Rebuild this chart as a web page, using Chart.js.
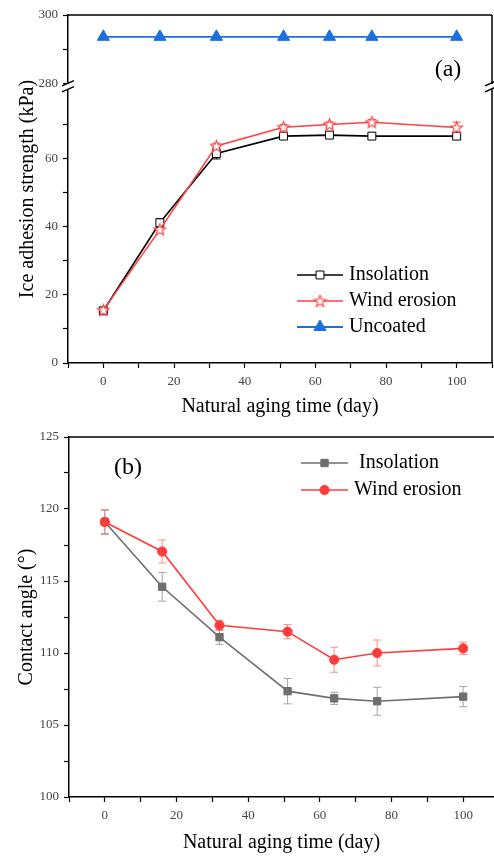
<!DOCTYPE html>
<html>
<head>
<meta charset="utf-8">
<script src="https://cdn.jsdelivr.net/npm/chart.js@4.4.0/dist/chart.umd.min.js"></script>
<style>
  html, body { margin: 0; padding: 0; background: #fff; }
  #wrapA { position: absolute; left: 0; top: 0; width: 494px; height: 422px; }
  #wrapB { position: absolute; left: 0; top: 422px; width: 494px; height: 434px; }
</style>
</head>
<body>
<div id="wrapA"><canvas id="chartA" width="494" height="422"></canvas></div>
<div id="wrapB"><canvas id="chartB" width="494" height="434"></canvas></div>
<script>
// aging days (both panels)
const days = [0, 16, 32, 51, 64, 76, 100];

// (a) ice adhesion strength, kPa
const iceInsolation = [15.3, 41.1, 61.4, 66.5, 66.8, 66.5, 66.5];
const iceInsolationErr = [0.6, 1.2, 1.6, 0.8, 0.8, 0.8, 0.6];
const iceWind = [15.5, 39.1, 63.6, 69.1, 69.9, 70.6, 69.0];
const iceWindErr = [0.6, 0.8, 0.8, 0.8, 0.8, 0.8, 1.6];
const iceUncoated = [293.6, 293.6, 293.6, 293.6, 293.6, 293.6, 293.6];

// (b) contact angle, degrees
const caInsolation = [119.1, 114.6, 111.1, 107.35, 106.85, 106.65, 106.97];
const caInsolationErr = [0.8, 1.0, 0.5, 0.88, 0.42, 0.97, 0.7];
const caWind = [119.1, 117.05, 111.92, 111.48, 109.53, 110.0, 110.32];
const caWindErr = [0.88, 0.8, 0.35, 0.49, 0.87, 0.9, 0.43];

// labelled ticks
const xTicks = [0, 20, 40, 60, 80, 100];
const iceTicks = [0, 20, 40, 60, 280, 300];
const caTicks = [100, 105, 110, 115, 120, 125];

const serif = "'Liberation Serif', 'Times New Roman', serif";
Chart.defaults.font.family = serif;
Chart.defaults.color = "#444";

function pts(ys) {
  return days.map((d, i) => ({ x: d, y: ys[i] }));
}

function starImage(color) {
  const c = document.createElement("canvas");
  c.width = 15;
  c.height = 15;
  const g = c.getContext("2d");
  g.beginPath();
  for (let k = 0; k < 10; k++) {
    const r = k % 2 ? 2.6 : 6.2;
    const a = -Math.PI / 2 + (k * Math.PI) / 5;
    g.lineTo(7.5 + r * Math.cos(a), 8 + r * Math.sin(a));
  }
  g.closePath();
  g.fillStyle = "#fff";
  g.fill();
  g.strokeStyle = color;
  g.lineWidth = 1.1;
  g.stroke();
  return c;
}

// error bars drawn under the markers
const errorBars = {
  id: "errorBars",
  beforeDatasetsDraw(chart) {
    const ctx = chart.ctx;
    chart.data.datasets.forEach((ds, di) => {
      if (!ds.errors) return;
      const meta = chart.getDatasetMeta(di);
      const ys = chart.scales[meta.yAxisID];
      ctx.save();
      ctx.strokeStyle = ds.errorColor;
      ctx.lineWidth = 1;
      ds.data.forEach((p, i) => {
        const x = meta.data[i].x;
        const y1 = ys.getPixelForValue(p.y - ds.errors[i]);
        const y2 = ys.getPixelForValue(p.y + ds.errors[i]);
        ctx.beginPath();
        ctx.moveTo(x, y1);
        ctx.lineTo(x, y2);
        ctx.moveTo(x - 4, y1);
        ctx.lineTo(x + 4, y1);
        ctx.moveTo(x - 4, y2);
        ctx.lineTo(x + 4, y2);
        ctx.stroke();
      });
      ctx.restore();
    });
  },
};

// legend with a line through the marker
const lineLegend = {
  id: "lineLegend",
  afterDraw(chart, args, opts) {
    const ctx = chart.ctx;
    opts.items.forEach((it, i) => {
      const ds = chart.data.datasets[it.index];
      const y = opts.y + i * opts.gap;
      ctx.save();
      ctx.strokeStyle = ds.borderColor;
      ctx.lineWidth = ds.borderWidth;
      ctx.beginPath();
      ctx.moveTo(opts.x1, y);
      ctx.lineTo(opts.x2, y);
      ctx.stroke();
      ctx.fillStyle = ds.pointBackgroundColor;
      ctx.strokeStyle = ds.pointBorderColor;
      ctx.lineWidth = ds.pointBorderWidth;
      Chart.helpers.drawPoint(
        ctx,
        { pointStyle: ds.pointStyle, radius: ds.pointRadius, borderWidth: ds.pointBorderWidth, rotation: 0 },
        (opts.x1 + opts.x2) / 2,
        y
      );
      ctx.fillStyle = "#000";
      ctx.font = "20px " + serif;
      ctx.textBaseline = "middle";
      ctx.textAlign = "left";
      ctx.fillText(it.text, opts.textX, y);
      ctx.restore();
    });
  },
};

// frame lines, axis break, panel letter, rotated title
const decor = {
  id: "decor",
  afterDraw(chart, args, opts) {
    const { ctx, chartArea } = chart;
    const { left, right, top, bottom } = chartArea;
    ctx.save();
    ctx.strokeStyle = "#000";
    ctx.lineWidth = 1.5;
    ctx.beginPath();
    ctx.moveTo(left, top);
    ctx.lineTo(right, top);
    if (opts.rightBorder) {
      ctx.moveTo(right, top);
      ctx.lineTo(right, bottom);
    }
    ctx.stroke();

    if (opts.breakScale) {
      const brk = chart.scales[opts.breakScale].bottom;
      [left, right - 1].forEach((x) => {
        ctx.fillStyle = "#fff";
        ctx.fillRect(x - 2, brk + 0.8, 4, 5);
        ctx.beginPath();
        ctx.moveTo(x - 6, brk + 2.6);
        ctx.lineTo(x + 6, brk - 2.6);
        ctx.moveTo(x - 6, brk + 8.6);
        ctx.lineTo(x + 6, brk + 3.4);
        ctx.stroke();
      });
    }

    ctx.fillStyle = "#000";
    ctx.font = "24px " + serif;
    ctx.textAlign = "center";
    ctx.textBaseline = "middle";
    ctx.fillText(opts.letter.text, opts.letter.x, opts.letter.y);

    if (opts.yTitle) {
      ctx.translate(opts.yTitle.x, (top + bottom) / 2);
      ctx.rotate(-Math.PI / 2);
      ctx.font = "20px " + serif;
      ctx.fillText(opts.yTitle.text, 0, 0);
    }
    ctx.restore();
  },
};

function xScale(max, padBottom) {
  return {
    type: "linear",
    min: -10,
    max: max,
    ticks: {
      stepSize: 10,
      includeBounds: false,
      autoSkip: false,
      maxRotation: 0,
      padding: 6,
      font: { size: 13 },
      callback: (v) => (xTicks.includes(v) ? String(v) : ""),
    },
    grid: { drawOnChartArea: false, tickLength: 5, tickColor: "#000", tickWidth: 1.2 },
    border: { color: "#000", width: 1.5 },
    title: {
      display: true,
      text: "Natural aging time (day)",
      color: "#000",
      font: { size: 20 },
      padding: { top: 0, bottom: padBottom },
    },
    afterFit: (s) => {
      s.height = 59;
      s.paddingLeft = 0;
      s.paddingRight = 0;
    },
  };
}

function yTicks(list) {
  return {
    stepSize: 10,
    includeBounds: false,
    autoSkip: false,
    padding: 5,
    font: { size: 13 },
    callback: (v) => (list.includes(v) ? String(v) : ""),
  };
}

function fitY(w) {
  return (s) => {
    s.width = w;
    s.paddingTop = 0;
    s.paddingBottom = 0;
  };
}

const commonOpts = {
  responsive: false,
  animation: false,
  events: [],
  plugins: { legend: { display: false }, tooltip: { enabled: false } },
};

// ---------- panel (a) ----------
new Chart(document.getElementById("chartA"), {
  type: "line",
  data: {
    datasets: [
      {
        label: "Wind erosion",
        data: pts(iceWind),
        yAxisID: "yB",
        borderColor: "#ff4040",
        borderWidth: 1.5,
        pointStyle: starImage("#ff4040"),
        pointRadius: 6,
        pointBackgroundColor: "#fff",
        pointBorderColor: "#ff4040",
        pointBorderWidth: 1,
        errors: iceWindErr,
        errorColor: "#ff4040",
      },
      {
        label: "Insolation",
        data: pts(iceInsolation),
        yAxisID: "yB",
        borderColor: "#000",
        borderWidth: 1.6,
        pointStyle: "rect",
        pointRadius: 5.6,
        pointBackgroundColor: "#fff",
        pointBorderColor: "#000",
        pointBorderWidth: 1,
        errors: iceInsolationErr,
        errorColor: "#000",
      },
      {
        label: "Uncoated",
        data: pts(iceUncoated),
        yAxisID: "yT",
        borderColor: "#1b6fe0",
        borderWidth: 1.8,
        pointStyle: "triangle",
        pointRadius: 7,
        pointBackgroundColor: "#1b6fe0",
        pointBorderColor: "#1b6fe0",
        pointBorderWidth: 1,
      },
    ],
  },
  options: {
    ...commonOpts,
    layout: { autoPadding: false, padding: { top: 15, right: 2, left: 0, bottom: 0 } },
    scales: {
      x: xScale(110, 3),
      // first axis of a stack goes to the bottom
      yB: {
        type: "linear",
        position: "left",
        stack: "ice",
        stackWeight: 82,
        min: 0,
        max: 82,
        ticks: yTicks(iceTicks),
        grid: {
          drawOnChartArea: false,
          tickLength: 5,
          tickWidth: 1.2,
          tickColor: (c) => (c.tick && c.tick.value >= 80 ? "rgba(0,0,0,0)" : "#000"),
        },
        border: { color: "#000", width: 1.5 },
        afterFit: fitY(68),
      },
      yT: {
        type: "linear",
        position: "left",
        stack: "ice",
        stackWeight: 20,
        min: 280,
        max: 300,
        ticks: yTicks(iceTicks),
        grid: { drawOnChartArea: false, tickLength: 5, tickColor: "#000", tickWidth: 1.2 },
        border: { color: "#000", width: 1.5 },
        afterFit: fitY(68),
      },
    },
    plugins: {
      ...commonOpts.plugins,
      decor: {
        rightBorder: true,
        breakScale: "yT",
        letter: { text: "(a)", x: 448, y: 70 },
        yTitle: { text: "Ice adhesion strength (kPa)", x: 28 },
      },
      lineLegend: {
        x1: 297,
        x2: 343,
        textX: 349,
        y: 275,
        gap: 26,
        items: [
          { index: 1, text: "Insolation" },
          { index: 0, text: "Wind erosion" },
          { index: 2, text: "Uncoated" },
        ],
      },
    },
  },
  plugins: [errorBars, lineLegend, decor],
});

// ---------- panel (b) ----------
new Chart(document.getElementById("chartB"), {
  type: "line",
  data: {
    datasets: [
      {
        label: "Wind erosion",
        data: pts(caWind),
        yAxisID: "y",
        borderColor: "#ff3c3c",
        borderWidth: 1.6,
        pointStyle: "circle",
        pointRadius: 4.6,
        pointBackgroundColor: "#ff3c3c",
        pointBorderColor: "#ff3c3c",
        pointBorderWidth: 1,
        errors: caWindErr,
        errorColor: "#ff8c8c",
      },
      {
        label: "Insolation",
        data: pts(caInsolation),
        yAxisID: "y",
        borderColor: "#6e6e6e",
        borderWidth: 1.6,
        pointStyle: "rect",
        pointRadius: 5.2,
        pointBackgroundColor: "#6e6e6e",
        pointBorderColor: "#6e6e6e",
        pointBorderWidth: 1,
        errors: caInsolationErr,
        errorColor: "#a4a4a4",
      },
    ],
  },
  options: {
    ...commonOpts,
    layout: { autoPadding: false, padding: { top: 15, right: 0, left: 0, bottom: 0 } },
    scales: {
      x: xScale(108.6, 1),
      y: {
        type: "linear",
        position: "left",
        min: 100,
        max: 125,
        ticks: { ...yTicks(caTicks), stepSize: 2.5 },
        grid: { drawOnChartArea: false, tickLength: 5, tickColor: "#000", tickWidth: 1.2 },
        border: { color: "#000", width: 1.5 },
        title: {
          display: true,
          text: "Contact angle (°)",
          color: "#000",
          font: { size: 20 },
          padding: { top: 15, bottom: 0 },
        },
        afterFit: fitY(69),
      },
    },
    plugins: {
      ...commonOpts.plugins,
      decor: {
        rightBorder: false,
        letter: { text: "(b)", x: 128, y: 46 },
      },
      lineLegend: {
        x1: 301,
        x2: 348,
        textX: 354,
        y: 41,
        gap: 27,
        items: [
          { index: 1, text: " Insolation" },
          { index: 0, text: "Wind erosion" },
        ],
      },
    },
  },
  plugins: [errorBars, lineLegend, decor],
});
</script>
</body>
</html>
